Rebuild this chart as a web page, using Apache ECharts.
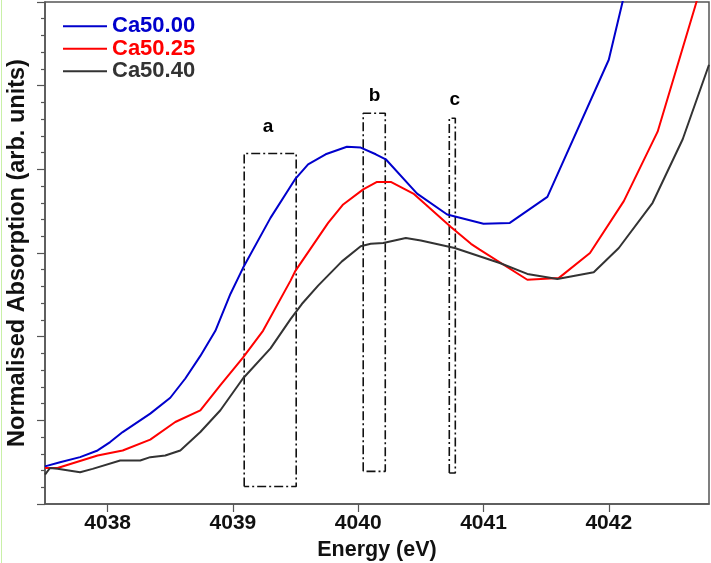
<!DOCTYPE html>
<html>
<head>
<meta charset="utf-8">
<script src="https://cdn.jsdelivr.net/npm/echarts@6/dist/echarts.min.js"></script>
<style>
  html, body { margin: 0; padding: 0; background: #fff; }
  #chart { width: 711px; height: 563px; }
</style>
</head>
<body>
<div id="chart"></div>
<script>
// Ca K-edge XANES spectra, energy (eV) vs normalised absorption
const seriesNames = ['Ca50.00', 'Ca50.25', 'Ca50.40'];
const seriesColors = ['#0000cc', '#ff0000', '#333333'];

const ca5000 = [
  [4037.50, 0.45], [4037.62, 0.50], [4037.78, 0.56], [4037.92, 0.64],
  [4038.02, 0.74], [4038.12, 0.86], [4038.34, 1.08], [4038.50, 1.27],
  [4038.62, 1.50], [4038.74, 1.77], [4038.86, 2.07], [4038.98, 2.51],
  [4039.08, 2.82], [4039.30, 3.42], [4039.50, 3.89], [4039.60, 4.06],
  [4039.74, 4.18], [4039.91, 4.27], [4040.02, 4.26], [4040.14, 4.18],
  [4040.22, 4.12], [4040.47, 3.71], [4040.71, 3.46], [4041.00, 3.35],
  [4041.21, 3.36], [4041.51, 3.67], [4042.00, 5.31], [4042.25, 6.88]
];

const ca5025 = [
  [4037.50, 0.43], [4037.60, 0.43], [4037.92, 0.58], [4038.12, 0.64],
  [4038.34, 0.77], [4038.54, 0.98], [4038.74, 1.12], [4038.90, 1.42],
  [4039.08, 1.75], [4039.24, 2.07], [4039.46, 2.67], [4039.50, 2.79],
  [4039.76, 3.36], [4039.88, 3.58], [4040.04, 3.76], [4040.15, 3.85],
  [4040.26, 3.85], [4040.44, 3.71], [4040.74, 3.31], [4040.90, 3.11],
  [4040.97, 3.04], [4041.35, 2.68], [4041.60, 2.70], [4041.85, 3.00],
  [4042.12, 3.62], [4042.39, 4.45], [4042.70, 6.00], [4042.80, 6.51]
];

const ca5040 = [
  [4037.50, 0.35], [4037.54, 0.43], [4037.60, 0.42], [4037.78, 0.38],
  [4037.88, 0.42], [4038.10, 0.52], [4038.26, 0.52], [4038.34, 0.56],
  [4038.46, 0.58], [4038.58, 0.64], [4038.74, 0.86], [4038.90, 1.12],
  [4039.08, 1.50], [4039.30, 1.86], [4039.46, 2.21], [4039.55, 2.39],
  [4039.68, 2.61], [4039.87, 2.90], [4040.02, 3.08], [4040.10, 3.11],
  [4040.20, 3.12], [4040.38, 3.18], [4040.50, 3.15], [4040.77, 3.06],
  [4041.13, 2.88], [4041.35, 2.75], [4041.59, 2.69], [4041.88, 2.77],
  [4042.08, 3.06], [4042.35, 3.60], [4042.59, 4.36], [4042.80, 5.25]
];

// highlighted energy windows: [left, right, bottom, top]
const regionNames = ['a', 'b', 'c'];
const regionBounds = [
  [4039.09, 4039.505, 0.21, 4.19],
  [4040.04, 4040.216, 0.39, 4.67],
  [4040.727, 4040.775, 0.37, 4.61]
];
const regionLabelPos = [
  [4039.28, 4.51],
  [4040.13, 4.88],
  [4040.77, 4.83]
];

const xTicks = [4038, 4039, 4040, 4041, 4042];

const FONT = '"Liberation Sans", Arial, Helvetica, sans-serif';

const spectra = [ca5000, ca5025, ca5040];

const lineSeries = spectra.map((data, i) => ({
  name: seriesNames[i],
  type: 'line',
  data: data,
  symbol: 'none',
  smooth: false,
  clip: true,
  lineStyle: { color: seriesColors[i], width: 2 },
  itemStyle: { color: seriesColors[i] },
  z: 3
}));

const boxSeries = regionBounds.map((b, i) => ({
  name: 'region-' + regionNames[i],
  type: 'line',
  data: [[b[0], b[2]], [b[0], b[3]], [b[1], b[3]], [b[1], b[2]], [b[0], b[2]]],
  symbol: 'none',
  silent: true,
  lineStyle: { color: '#111', width: 1.6, type: [9, 3, 2, 3] },
  z: 2
}));

const labelSeries = {
  name: 'region-labels',
  type: 'scatter',
  symbolSize: 0,
  silent: true,
  itemStyle: { opacity: 1 },
  data: regionLabelPos.map((p, i) => ({ value: p, name: regionNames[i] })),
  label: {
    show: true,
    position: 'inside',
    formatter: (p) => p.name,
    fontFamily: FONT,
    fontWeight: 'bold',
    fontSize: 19,
    color: '#000',
    opacity: 1
  }
};

const chart = echarts.init(document.getElementById('chart'), null, { renderer: 'canvas' });

chart.setOption({
  animation: false,
  backgroundColor: '#ffffff',
  grid: {
    left: 45, right: 2, top: 2, bottom: 59,
    outerBoundsMode: 'none',
    containLabel: false,
    show: true, borderColor: '#555', borderWidth: 1.5, backgroundColor: 'transparent'
  },
  legend: {
    orient: 'vertical',
    left: 63, top: 15,
    padding: 0,
    icon: 'rect',
    itemWidth: 44, itemHeight: 2, itemGap: 0,
    data: seriesNames.map((n, i) => ({
      name: n,
      itemStyle: { color: seriesColors[i] },
      textStyle: { color: seriesColors[i] }
    })),
    textStyle: {
      fontFamily: FONT, fontWeight: 'bold', fontSize: 22, lineHeight: 22.5, padding: [0, 0, 0, 0]
    }
  },
  xAxis: {
    type: 'value',
    min: 4037.5, max: 4042.8,
    interval: 0.5,
    name: 'Energy (eV)',
    nameLocation: 'middle',
    nameGap: 28,
    nameTextStyle: { fontFamily: FONT, fontWeight: 'bold', fontSize: 21.5, color: '#111' },
    axisLine: { lineStyle: { color: '#555', width: 1.5 } },
    axisTick: {
      inside: false, length: 8,
      lineStyle: { color: '#555', width: 1.2 },
      customValues: xTicks
    },
    axisLabel: {
      fontFamily: FONT, fontWeight: 'bold', fontSize: 21, color: '#111', margin: 9,
      customValues: xTicks,
      formatter: (v) => String(Math.round(v))
    },
    splitLine: { show: false }
  },
  yAxis: {
    type: 'value',
    min: 0, max: 6, interval: 1,
    name: 'Normalised Absorption (arb. units)',
    nameLocation: 'middle',
    nameGap: 15,
    nameTextStyle: { fontFamily: FONT, fontWeight: 'bold', fontSize: 23.5, color: '#111' },
    axisLine: { lineStyle: { color: '#555', width: 1.5 } },
    axisTick: { inside: false, length: 8, lineStyle: { color: '#555', width: 1.2 } },
    minorTick: { show: true, splitNumber: 5, length: 4, lineStyle: { color: '#555', width: 1.2 } },
    axisLabel: { show: false },
    splitLine: { show: false }
  },
  graphic: [{
    type: 'rect',
    shape: { x: 1, y: 0, width: 1, height: 563 },
    style: { fill: '#c9f0a8' },
    silent: true
  }],
  series: [...lineSeries, ...boxSeries, labelSeries]
});
</script>
</body>
</html>
